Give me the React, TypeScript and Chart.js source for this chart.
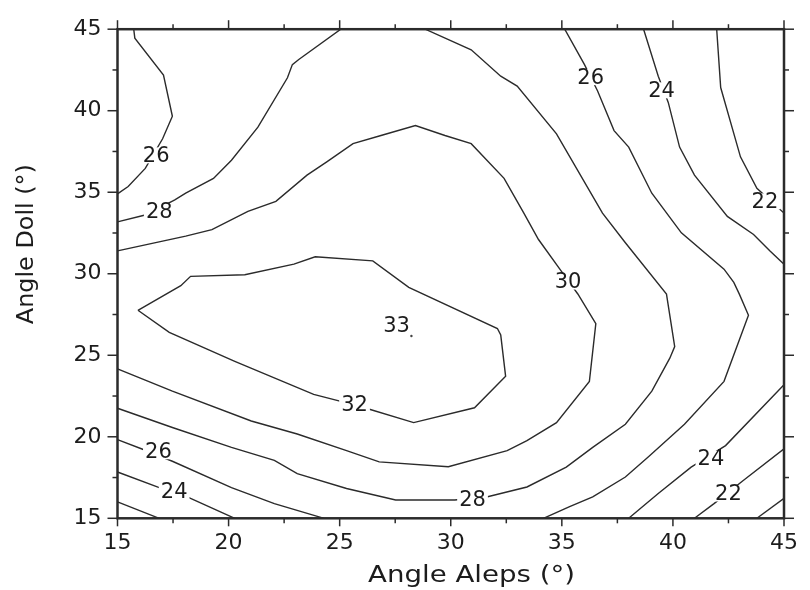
import React, { useEffect, useRef } from "react";
import { Chart, registerables } from "chart.js";

Chart.register(...registerables);

// ---- axis ticks / titles ----
const majorTicks = [15, 20, 25, 30, 35, 40, 45];
const minorTicks = [17.5, 22.5, 27.5, 32.5, 37.5, 42.5];
const xTitle = "Angle Aleps (°)";
const yTitle = "Angle Doll (°)";

// ---- contour lines: [Angle Aleps, Angle Doll] ----
const contour26TopLeft = [
  [15.73, 45], [15.78, 44.45], [17.07, 42.18], [17.47, 39.66], [17.03, 38.28],
  [16.25, 36.46], [15.48, 35.35], [15, 34.9],
];
const contour28TopLeft = [
  [15, 33.18], [16.29, 33.62], [17.58, 34.53], [18.07, 34.94], [19.32, 35.85],
  [20.13, 36.96], [21.32, 38.99], [22.65, 42.02], [22.87, 42.83], [23.16, 43.14], [25.05, 45],
];
const contour28Main = [
  [28.85, 45], [30.92, 43.74], [32.25, 42.12], [32.99, 41.51], [34.76, 38.58],
  [36.83, 33.72], [37.86, 31.9], [39.71, 28.75], [40.08, 25.53], [39.86, 24.82],
  [39.05, 22.8], [37.86, 20.77], [36.39, 19.35], [35.2, 18.14], [33.43, 16.92],
  [31.66, 16.32], [30.18, 16.12], [27.52, 16.12], [25.31, 16.83], [23.09, 17.74],
  [22.06, 18.55], [20.13, 19.35], [17.47, 20.57], [15, 21.75],
];
const contour30 = [
  [15, 31.4], [18.07, 32.31], [19.25, 32.71], [20.87, 33.83], [22.13, 34.44],
  [23.53, 36.05], [24.42, 36.86], [25.6, 37.98], [26.86, 38.48], [28.41, 39.09],
  [29.74, 38.48], [30.92, 37.98], [32.4, 35.85], [33.29, 33.72], [33.95, 32.1],
  [34.91, 30.28], [35.72, 28.76], [36.53, 26.94], [36.24, 23.4], [34.76, 20.87],
  [33.43, 19.76], [32.54, 19.15], [29.89, 18.16], [26.78, 18.46], [25.31, 19.15],
  [23.09, 20.17], [21.02, 20.97], [17.47, 22.8], [15, 24.17],
];
const contour32 = [
  [15.92, 27.76], [17.85, 29.27], [18.29, 29.84], [20.73, 29.94], [22.94, 30.59],
  [23.9, 31.04], [26.49, 30.79], [28.11, 29.17], [32.1, 26.64], [32.25, 26.24],
  [32.47, 23.71], [31.07, 21.78], [28.33, 20.87], [26.34, 21.69], [25.01, 22.19],
  [23.83, 22.6], [20.28, 24.62], [17.33, 26.4], [15.92, 27.76],
];
const contour26BottomLeft = [
  [15, 19.82], [16.22, 19.19], [17.47, 18.5], [20.13, 16.88], [22.06, 15.9], [24.3, 15],
];
const contour26Right = [
  [34.17, 15], [35.35, 15.71], [36.39, 16.32], [37.86, 17.53], [38.9, 18.78],
  [40.52, 20.77], [42.3, 23.4], [43.4, 27.45], [42.99, 28.75], [42.74, 29.47],
  [42.3, 30.28], [40.38, 32.51], [39.05, 34.94], [38.01, 37.77], [37.35, 38.78],
  [36.61, 41.21], [36.02, 42.83], [35.13, 45],
];
const contour24BottomLeft = [[15, 17.84], [16.88, 16.88], [18.14, 16.32], [20.28, 15]];
const contour24TopRight = [
  [38.68, 45], [39.34, 42.12], [39.79, 40.51], [40.3, 37.77], [40.97, 36.05],
  [42.45, 33.52], [43.63, 32.41], [44.37, 31.4], [45, 30.59],
];
const contour24BottomRight = [[38.01, 15], [39.34, 16.52], [40.82, 18.14], [42.37, 19.46], [45, 23.2]];
const contour22TopRight = [[41.97, 45], [42.15, 41.42], [43.04, 37.17], [43.78, 35.24], [45, 33.72]];
const contour22BottomLeft = [[15, 16.01], [16.88, 15]];
const contour22BottomRight = [[40.97, 15], [41.85, 15.9], [43.18, 17.33], [45, 19.26]];
const contour20BottomRight = [[43.78, 15], [45, 16.22]];

const peakPoint = [[28.23, 26.18]];

// ---- contour labels ----
const labelText = ["26", "28", "26", "24", "22", "30", "33", "32", "26", "24", "28", "24", "22"];
const labelX = [16.74, 16.88, 36.3, 39.49, 44.14, 35.28, 27.56, 25.67, 16.84, 17.55, 30.98, 41.71, 42.5];
const labelY = [37.26, 33.83, 42.06, 41.25, 34.44, 29.52, 26.82, 21.99, 19.11, 16.62, 16.12, 18.65, 16.52];

const allContours = [
  contour26TopLeft, contour28TopLeft, contour28Main, contour30, contour32,
  contour26BottomLeft, contour26Right, contour24BottomLeft, contour24TopRight,
  contour24BottomRight, contour22TopRight, contour22BottomLeft, contour22BottomRight,
  contour20BottomRight,
];

const FONT = '"DejaVu Sans", sans-serif';
const TEXT_COLOR = "#1c1c1c";

const contourLabelPlugin = {
  id: "contourLabels",
  afterDatasetsDraw(chart: any) {
    const { ctx, scales } = chart;
    const xs = scales.x;
    const ys = scales.y;
    ctx.save();
    ctx.font = `21px ${FONT}`;
    ctx.textAlign = "center";
    ctx.textBaseline = "middle";
    labelText.forEach((t, i) => {
      const px = xs.getPixelForValue(labelX[i]);
      const py = ys.getPixelForValue(labelY[i]);
      const w = ctx.measureText(t).width;
      ctx.fillStyle = "#ffffff";
      ctx.fillRect(px - w / 2 - 2, py - 8, w + 4, 16);
      ctx.fillStyle = TEXT_COLOR;
      ctx.fillText(t, px, py + 1);
    });
    ctx.restore();
  },
};

const framePlugin = {
  id: "frame",
  afterDraw(chart: any) {
    const { ctx, chartArea: a, scales } = chart;
    const xs = scales.x;
    const ys = scales.y;
    ctx.save();
    ctx.strokeStyle = "#2b2b2b";
    ctx.lineWidth = 2.5;
    ctx.strokeRect(a.left, a.top, a.right - a.left, a.bottom - a.top);
    ctx.lineWidth = 1.5;
    const seg = (x1: number, y1: number, x2: number, y2: number) => {
      ctx.beginPath();
      ctx.moveTo(x1, y1);
      ctx.lineTo(x2, y2);
      ctx.stroke();
    };
    const drawTicks = (vals: number[], major: boolean) => {
      vals.forEach((v) => {
        const px = xs.getPixelForValue(v);
        const py = ys.getPixelForValue(v);
        seg(px, a.bottom, px, a.bottom + (major ? 8 : 5));
        seg(px, a.top, px, a.top - (major ? 9 : 5));
        seg(a.left, py, a.left - (major ? 10 : 5), py);
        seg(a.right, py, a.right + (major ? 10 : 5), py);
      });
    };
    drawTicks(majorTicks, true);
    drawTicks(minorTicks, false);

    // axis titles
    ctx.fillStyle = TEXT_COLOR;
    ctx.font = `23px ${FONT}`;
    ctx.textAlign = "center";
    ctx.textBaseline = "alphabetic";
    const wx = ctx.measureText(xTitle).width;
    ctx.save();
    ctx.translate((a.left + a.right) / 2 + 20.8, a.bottom + 63.4);
    ctx.scale(207 / wx, 1);
    ctx.fillText(xTitle, 0, 0);
    ctx.restore();

    const wy = ctx.measureText(yTitle).width;
    ctx.save();
    ctx.translate(a.left - 84.2, (a.top + a.bottom) / 2 - 29.6);
    ctx.rotate(-Math.PI / 2);
    ctx.scale(160 / wy, 1);
    ctx.fillText(yTitle, 0, 0);
    ctx.restore();
    ctx.restore();
  },
};

export default function App() {
  const canvasRef = useRef<HTMLCanvasElement | null>(null);

  useEffect(() => {
    if (!canvasRef.current) return;
    const datasets: any[] = allContours.map((pts) => ({
      data: pts.map(([x, y]) => ({ x, y })),
      showLine: true,
      borderColor: "#2b2b2b",
      borderWidth: 1.4,
      pointRadius: 0,
      pointHoverRadius: 0,
      tension: 0,
      fill: false,
    }));
    datasets.push({
      data: peakPoint.map(([x, y]) => ({ x, y })),
      showLine: false,
      pointRadius: 1.2,
      pointBackgroundColor: "#444444",
      pointBorderWidth: 0,
    });

    const chart = new Chart(canvasRef.current, {
      type: "scatter",
      data: { datasets },
      plugins: [contourLabelPlugin, framePlugin],
      options: {
        responsive: false,
        animation: false,
        devicePixelRatio: 1,
        layout: { padding: { top: 24.3, right: 15.7, left: 0, bottom: 0 } },
        plugins: { legend: { display: false }, tooltip: { enabled: false } },
        events: [],
        scales: {
          x: {
            type: "linear",
            min: 15,
            max: 45,
            afterFit: (s: any) => {
              s.height = 71.7;
            },
            afterBuildTicks: (s: any) => {
              s.ticks = majorTicks.map((v) => ({ value: v }));
            },
            grid: { display: false, drawTicks: false },
            border: { display: false },
            ticks: {
              padding: 12,
              color: TEXT_COLOR,
              font: { family: FONT, size: 22 },
              maxRotation: 0,
            },
          },
          y: {
            type: "linear",
            min: 15,
            max: 45,
            afterFit: (s: any) => {
              s.width = 117.5;
            },
            afterBuildTicks: (s: any) => {
              s.ticks = majorTicks.map((v) => ({ value: v }));
            },
            grid: { display: false, drawTicks: false },
            border: { display: false },
            ticks: {
              padding: 16,
              color: TEXT_COLOR,
              font: { family: FONT, size: 22 },
            },
          },
        },
      } as any,
    });
    return () => chart.destroy();
  }, []);

  return (
    <div style={{ position: "fixed", left: 0, top: 0, width: 810, height: 590, background: "#fff" }}>
      <canvas ref={canvasRef} width={810} height={590} style={{ display: "block" }} />
    </div>
  );
}
